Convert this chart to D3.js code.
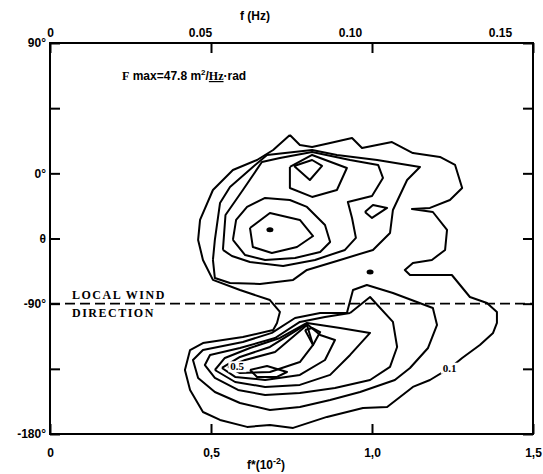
<!DOCTYPE html>
<html>
<head>
<meta charset="utf-8">
<script src="https://cdn.jsdelivr.net/npm/d3@7"></script>
<style>
  body { margin: 0; background: #fff; }
  svg { font-family: "Liberation Sans", Arial, sans-serif; }
</style>
</head>
<body>
<svg id="chart" width="543" height="474"></svg>
<script>
// bottom axis f* (10^-2)
const fStarTicks = [0, 0.5, 1.0, 1.5];
const fStarLabels = ["0", "0,5", "1,0", "1,5"];
// top axis f (Hz)
const fHzTicks = [0, 0.05, 0.10, 0.15];
const fHzLabels = ["0", "0.05", "0.10", "0.15"];
// direction axis (deg)
const thetaTicks = [90, 45, 0, -45, -90, -135, -180];
const thetaLabels = ["90°", "", "0°", "θ", "-90°", "", "-180°"];
const windDirection = -90;

// contour lines, points are [f*, theta]
const contourOuter = [
  [0.745,26.5],[0.776,19.6],[0.814,18.2],[0.870,21.0],[0.938,24.4],[0.969,17.5],[1.062,21.6],
  [1.127,14.0],[1.211,11.3],[1.258,5.8],[1.280,-10.1],[1.242,-18.4],[1.180,-23.9],[1.124,-24.6],
  [1.189,-26.7],[1.233,-39.1],[1.227,-52.9],[1.186,-59.8],[1.127,-61.9],[1.102,-66.7],[1.118,-70.2],
  [1.248,-70.2],[1.304,-85.4],[1.357,-89.5],[1.388,-95.7],[1.388,-103.3],[1.376,-110.2],[1.335,-118.5],
  [1.280,-127.5],[1.242,-134.4],[1.180,-142.7],[1.127,-147.5],[1.087,-154.4],[1.047,-161.3],
  [0.972,-162.0],[0.860,-168.2],[0.755,-175.8],[0.683,-173.8],[0.612,-175.1],[0.528,-170.3],
  [0.475,-164.8],[0.435,-149.6],[0.419,-135.8],[0.435,-122.0],[0.475,-117.2],[0.599,-113.0],
  [0.693,-108.2],[0.705,-103.3],[0.714,-95.7],[0.683,-87.5],[0.590,-80.6],[0.506,-73.6],
  [0.475,-59.8],[0.460,-46.0],[0.466,-32.2],[0.506,-11.5],[0.568,2.3],[0.643,9.2],[0.693,16.1],[0.745,26.5]
];
const contourUpper2 = [
  [0.506,-59.8],[0.512,-46.0],[0.528,-20.5],[0.559,-9.4],[0.630,4.4],[0.674,12.7],[0.814,16.1],
  [0.891,12.7],[1.016,9.2],[1.149,4.4],[1.109,-4.6],[1.065,-25.3],[1.056,-41.2],[1.003,-52.9],
  [0.901,-59.8],[0.798,-66.7],[0.755,-73.6],[0.652,-76.4],[0.559,-75.7],[0.512,-72.3],[0.506,-59.8]
];
const contourUpper3 = [
  [0.537,-52.9],[0.545,-28.8],[0.599,-11.5],[0.658,7.8],[0.714,10.6],[0.814,14.7],[0.932,9.2],
  [1.019,5.8],[1.034,-3.2],[1.000,-15.6],[0.925,-19.8],[0.938,-30.8],[0.950,-44.6],[0.916,-52.9],
  [0.823,-59.8],[0.724,-64.0],[0.621,-61.2],[0.565,-57.1],[0.537,-52.9]
];
const contourUpper4 = [
  [0.568,-46.0],[0.578,-32.2],[0.612,-23.2],[0.668,-17.0],[0.745,-18.4],[0.798,-23.2],[0.854,-35.7],
  [0.870,-47.4],[0.839,-54.3],[0.761,-58.5],[0.668,-59.8],[0.606,-56.4],[0.568,-46.0]
];
const contourUpper5 = [
  [0.621,-37.7],[0.683,-27.4],[0.776,-32.2],[0.817,-43.3],[0.767,-50.9],[0.689,-55.0],[0.630,-50.9],[0.621,-37.7]
];
const contourPeakRing = [
  [0.745,4.4],[0.745,-10.1],[0.814,-16.3],[0.891,-11.5],[0.922,3.7],[0.814,12.7],[0.745,4.4]
];
const contourPeakInner = [[0.758,5.1],[0.807,-4.6],[0.845,5.1],[0.814,9.2],[0.758,5.1]];
const contourDiamond = [[0.978,-26.7],[1.003,-21.9],[1.047,-23.9],[1.000,-30.8],[0.978,-26.7]];
const contourLower2 = [
  [0.922,-96.4],[0.941,-80.6],[0.984,-77.1],[1.065,-82.6],[1.189,-93.0],[1.202,-104.7],[1.174,-120.6],
  [1.118,-134.4],[1.071,-142.7],[0.963,-151.0],[0.870,-156.5],[0.776,-161.3],[0.683,-163.4],
  [0.590,-158.6],[0.512,-151.0],[0.460,-141.3],[0.444,-128.9],[0.475,-122.0],[0.599,-116.5],
  [0.689,-110.2],[0.761,-99.9],[0.839,-96.4],[0.922,-96.4]
];
const contourLower3 = [
  [0.932,-96.4],[0.994,-85.4],[1.065,-102.6],[1.078,-119.9],[1.056,-133.7],[0.994,-142.7],
  [0.885,-148.2],[0.776,-151.7],[0.668,-153.1],[0.584,-149.6],[0.512,-141.3],[0.481,-132.4],
  [0.497,-125.4],[0.590,-120.6],[0.699,-113.7],[0.776,-102.6],[0.854,-99.2],[0.932,-96.4]
];
const contourLower4 = [
  [0.512,-135.8],[0.543,-127.5],[0.621,-120.6],[0.714,-113.7],[0.798,-103.3],[0.901,-106.8],
  [0.994,-110.2],[0.932,-125.4],[0.870,-139.2],[0.776,-146.1],[0.668,-147.5],[0.575,-144.1],[0.512,-135.8]
];
const contourLower5 = [
  [0.534,-134.4],[0.590,-126.8],[0.683,-119.9],[0.798,-104.0],[0.839,-111.6],[0.885,-115.1],
  [0.854,-128.9],[0.776,-139.2],[0.668,-142.7],[0.575,-140.6],[0.534,-134.4]
];
const contourLower6 = [
  [0.553,-133.7],[0.606,-128.9],[0.699,-123.4],[0.798,-104.7],[0.817,-118.5],[0.776,-130.3],
  [0.683,-137.2],[0.590,-137.9],[0.553,-133.7]
];
const contourLower7 = [
  [0.621,-135.8],[0.674,-133.0],[0.736,-137.2],[0.705,-140.6],[0.643,-140.6],[0.621,-135.8]
];
const contourLowerPeak = [[0.792,-108.2],[0.817,-118.5],[0.839,-109.6],[0.814,-106.8],[0.792,-108.2]];
const contourLines = [
  contourOuter, contourUpper2, contourUpper3, contourUpper4, contourUpper5, contourPeakRing,
  contourPeakInner, contourDiamond, contourLower2, contourLower3, contourLower4, contourLower5,
  contourLower6, contourLower7, contourLowerPeak
];
// small closed spots
const spots = [[0.683,-39.0], [0.994,-68.1]];
const contourLabels = [
  {text: "0.1", f: 1.22, theta: -137},
  {text: "0.5", f: 0.56, theta: -136}
];

const width = 543, height = 474;
const margin = {top: 43, right: 10, bottom: 40, left: 50};

const svg = d3.select("#chart");

const x = d3.scaleLinear().domain([0, 1.5]).range([margin.left, width - margin.right]);
const y = d3.scaleLinear().domain([-180, 90]).range([height - margin.bottom, margin.top]);
const xHz = d3.scaleLinear().domain([0, 0.161]).range([margin.left, width - margin.right]);

// frame
svg.append("rect")
  .attr("x", x(0)).attr("y", y(90))
  .attr("width", x(1.5) - x(0)).attr("height", y(-180) - y(90))
  .attr("fill", "none").attr("stroke", "#000").attr("stroke-width", 2);

// bottom axis
const bottomAxis = d3.axisBottom(x).tickValues(fStarTicks)
  .tickFormat((d, i) => fStarLabels[i]).tickSizeInner(-10).tickSizeOuter(0).tickPadding(14);
const gb = svg.append("g").attr("transform", `translate(0,${y(-180)})`).call(bottomAxis);

// top axis: labels from f(Hz), ticks mirror the bottom ones
const topAxis = d3.axisTop(xHz).tickValues(fHzTicks)
  .tickFormat((d, i) => fHzLabels[i]).tickSize(0).tickPadding(6);
const gt = svg.append("g").attr("transform", `translate(0,${y(90)})`).call(topAxis);
const topTicks = d3.axisTop(x).tickValues(fStarTicks).tickFormat("").tickSizeInner(-10).tickSizeOuter(0);
const gt2 = svg.append("g").attr("transform", `translate(0,${y(90)})`).call(topTicks);

// left and right axes
const leftAxis = d3.axisLeft(y).tickValues(thetaTicks)
  .tickFormat((d, i) => thetaLabels[i]).tickSizeInner(-10).tickSizeOuter(0).tickPadding(4);
const gl = svg.append("g").attr("transform", `translate(${x(0)},0)`).call(leftAxis);
const rightAxis = d3.axisRight(y).tickValues(thetaTicks).tickFormat("").tickSizeInner(-10).tickSizeOuter(0);
const gr = svg.append("g").attr("transform", `translate(${x(1.5)},0)`).call(rightAxis);

[gb, gt, gt2, gl, gr].forEach(g => {
  g.select(".domain").remove();
  g.selectAll(".tick line").attr("stroke", "#000").attr("stroke-width", 2);
  g.selectAll(".tick text").attr("fill", "#000")
    .attr("font-size", 12).attr("font-weight", "bold");
});

// axis titles
svg.append("text").attr("x", 255).attr("y", 20).attr("text-anchor", "middle")
  .attr("font-size", 12).attr("font-weight", "bold").text("f (Hz)");
const xt = svg.append("text").attr("x", 266).attr("y", 469).attr("text-anchor", "middle")
  .attr("font-size", 12).attr("font-weight", "bold");
xt.append("tspan").text("f*(10");
xt.append("tspan").attr("dy", -5).attr("font-size", 9).text("-2");
xt.append("tspan").attr("dy", 5).text(")");

// Fmax annotation
const fm = svg.append("text").attr("x", 122).attr("y", 80)
  .attr("font-size", 12).attr("font-weight", "bold");
fm.append("tspan").attr("font-family", "Liberation Serif").text("F");
fm.append("tspan").text(" max=47.8 m");
fm.append("tspan").attr("dy", -5).attr("font-size", 8).text("2");
fm.append("tspan").attr("dy", 5).text("/");
fm.append("tspan").attr("font-family", "Liberation Serif").attr("text-decoration", "underline").text("Hz");
fm.append("tspan").text("·rad");

// wind direction
svg.append("line")
  .attr("x1", x(0)).attr("x2", x(1.5))
  .attr("y1", y(windDirection)).attr("y2", y(windDirection))
  .attr("stroke", "#000").attr("stroke-width", 1.6).attr("stroke-dasharray", "10,5");
svg.append("text").attr("x", 72).attr("y", y(windDirection) - 5)
  .attr("font-family", "Liberation Serif").attr("font-size", 12).attr("font-weight", "bold")
  .attr("letter-spacing", 1.5).text("LOCAL WIND");
svg.append("text").attr("x", 72).attr("y", y(windDirection) + 13)
  .attr("font-family", "Liberation Serif").attr("font-size", 12).attr("font-weight", "bold")
  .attr("letter-spacing", 1.5).text("DIRECTION");

// contours
const line = d3.line().x(d => x(d[0])).y(d => y(d[1]));
svg.append("g").selectAll("path").data(contourLines).join("path")
  .attr("d", line).attr("fill", "none").attr("stroke", "#000")
  .attr("stroke-width", 2).attr("stroke-linejoin", "round");
svg.append("g").selectAll("ellipse").data(spots).join("ellipse")
  .attr("cx", d => x(d[0])).attr("cy", d => y(d[1]))
  .attr("rx", 3.5).attr("ry", 2.5).attr("fill", "#000");

const lab = svg.append("g").selectAll("g").data(contourLabels).join("g")
  .attr("transform", d => `translate(${x(d.f)},${y(d.theta)})`);
lab.append("rect").attr("x", -2).attr("y", -9).attr("width", 18).attr("height", 11).attr("fill", "#fff");
lab.append("text").attr("font-family", "Liberation Serif").attr("font-size", 11)
  .attr("font-weight", "bold").text(d => d.text);
</script>
</body>
</html>
